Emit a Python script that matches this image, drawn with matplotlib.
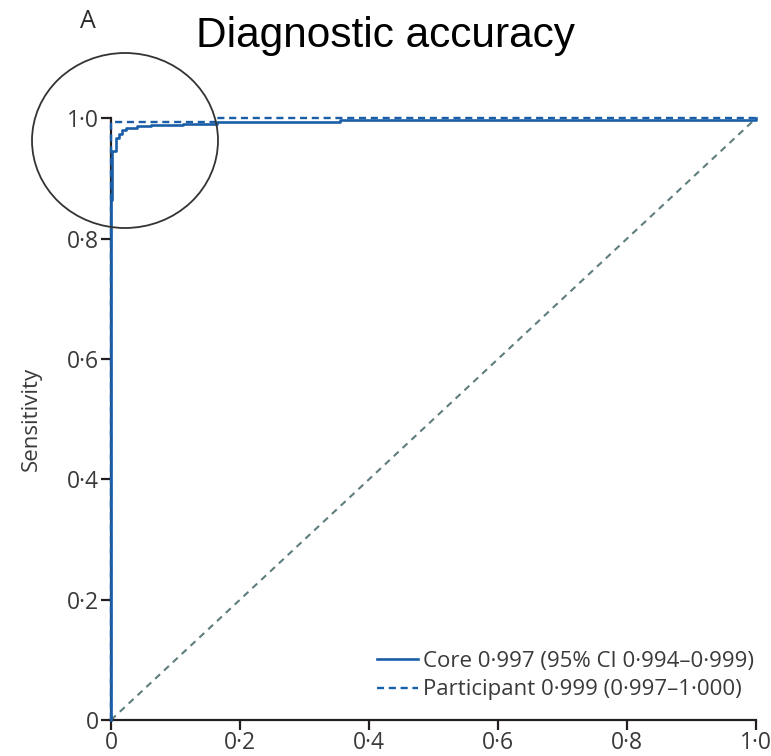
import matplotlib
matplotlib.use("Agg")
import matplotlib.pyplot as plt
from matplotlib.patches import Ellipse
from matplotlib.ticker import FuncFormatter

# ---- data ----
core_fpr = [0, 0, 0.0015, 0.007, 0.012, 0.0175, 0.023, 0.040, 0.062, 0.112, 0.164, 0.355, 0.727, 1.0]
core_tpr = [0, 0.865, 0.945, 0.967, 0.974, 0.980, 0.984, 0.987, 0.989, 0.991, 0.9945, 0.997, 0.998, 1.0]
part_fpr = [0, 0, 0.165, 1.0]
part_tpr = [0, 0.994, 1.0, 1.0]
chance = [0, 1]
ticks = [0, 0.2, 0.4, 0.6, 0.8, 1.0]
core_label = "Core 0·997 (95% CI 0·994–0·999)"
part_label = "Participant 0·999 (0·997–1·000)"
title = "Diagnostic accuracy"
panel = "A"
ylabel = "Sensitivity"

BLUE = "#1a5ea8"
GREY = "#5f7d7d"
TXT = "#3a3a3a"
INK = "#231f20"
FONT = "Open Sans"

W, H = 771, 756
fig = plt.figure(figsize=(W / 100, H / 100), dpi=100)
x0, x1 = 111, 756
y0, y1 = 720, 118.3
ax = fig.add_axes([x0 / W, 1 - y0 / H, (x1 - x0) / W, (y0 - y1) / H])
ax.set_xlim(0, 1)
ax.set_ylim(0, 1)

ax.plot(chance, chance, color=GREY, lw=1.5, ls=(0, (3.2, 2.6)), zorder=1, clip_on=False)
ax.plot(part_fpr, part_tpr, color=BLUE, lw=1.7, ls=(0, (3, 2)), drawstyle="steps-post",
        zorder=2.6, clip_on=False, label=part_label)
ax.plot(core_fpr, core_tpr, color=BLUE, lw=1.9, drawstyle="steps-post",
        zorder=3, clip_on=False, label=core_label)

for s in ("top", "right"):
    ax.spines[s].set_visible(False)
for s in ("left", "bottom"):
    ax.spines[s].set_color(INK)
    ax.spines[s].set_linewidth(1.6)

fmt = FuncFormatter(lambda v, p: "0" if v == 0 else f"{v:.1f}".replace(".", "·"))
ax.set_xticks(ticks)
ax.set_yticks(ticks)
ax.xaxis.set_major_formatter(fmt)
ax.yaxis.set_major_formatter(fmt)
ax.tick_params(axis="both", direction="out", length=7.5, width=1.6, color=INK,
               labelsize=16.5, labelcolor=TXT, pad=1.0)
ax.tick_params(axis="x", pad=0.5)
for lab in ax.get_xticklabels() + ax.get_yticklabels():
    lab.set_fontfamily(FONT)

ax.set_ylabel(ylabel, fontsize=16, color=TXT, family=FONT)
ax.yaxis.set_label_coords((42 - x0) / (x1 - x0), 0.5)

handles, labels = ax.get_legend_handles_labels()
leg = ax.legend(handles[::-1], labels[::-1], loc="lower right", frameon=False,
                bbox_to_anchor=(1.01, 0.018), borderaxespad=0, handlelength=1.85,
                handletextpad=0.2, labelspacing=0.33,
                prop={"family": FONT, "size": 16})
for t in leg.get_texts():
    t.set_color(TXT)

ell = Ellipse(((125 - x0) / (x1 - x0), (y0 - 140.5) / (y0 - y1)),
              186 / (x1 - x0), 175 / (y0 - y1), fill=False, ec="#333333", lw=1.3,
              clip_on=False, zorder=4)
ax.add_patch(ell)

fig.text(385 / W, 1 - 36 / H, title, ha="center", va="center", fontsize=30.5,
         family="Liberation Sans", color="black")
fig.text(88 / W, 1 - 21 / H, panel, ha="center", va="center", fontsize=18,
         family=FONT, color="#2a2a2a")

fig.savefig("out.png", dpi=100)
